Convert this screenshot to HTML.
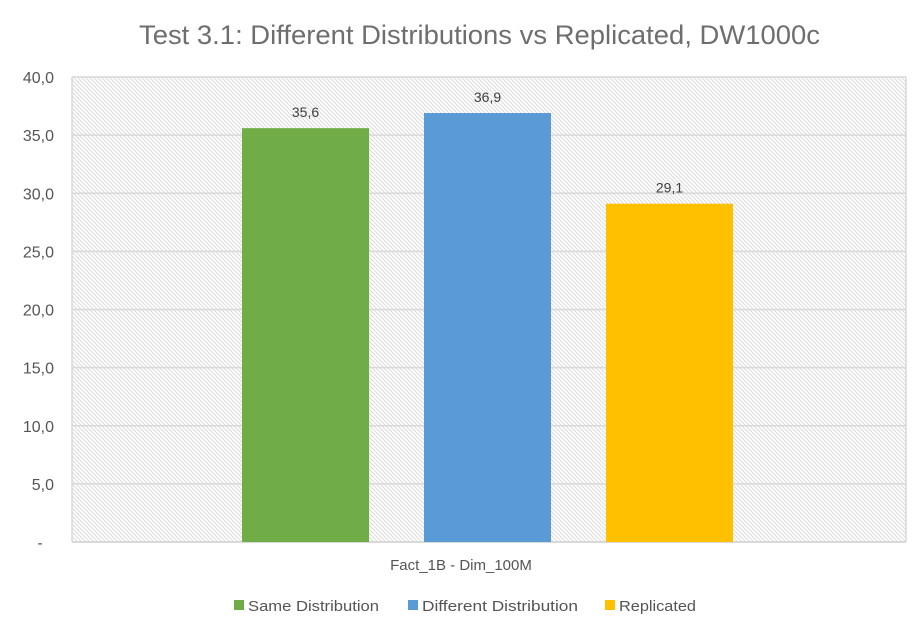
<!DOCTYPE html>
<html><head><meta charset="utf-8"><style>
body{margin:0;background:#fff;width:922px;height:628px;overflow:hidden;font-family:"Liberation Sans",sans-serif}
</style></head><body>
<svg width="922" height="628">
<defs>
<pattern id="hatch" width="4" height="4" patternUnits="userSpaceOnUse">
<rect width="4" height="4" fill="#fff"/>
<path d="M-1,-1 L5,5 M-1,3 L1,5 M3,-1 L5,1" stroke="#dcdcdc" stroke-width="1"/>
</pattern>
</defs>
<text x="139" y="44" font-size="27" fill="#6e6e6e" textLength="681" lengthAdjust="spacingAndGlyphs">Test 3.1: Different Distributions vs Replicated, DW1000c</text>
<rect x="72" y="77" width="834" height="465" fill="url(#hatch)"/>
<g id="grid"></g>
<g id="bars"></g>
<text x="461" y="570" text-anchor="middle" font-size="15" fill="#555">Fact_1B - Dim_100M</text>
<g id="legend" font-size="15" fill="#555"></g>
</svg>
<script>
const categories=["Same Distribution","Different Distribution","Replicated"];
const values=[35.6,36.9,29.1];
const colors=["#70ad47","#5b9bd5","#ffc000"];
const ticks=[0,5,10,15,20,25,30,35,40];
const tickLabels=["-","5,0","10,0","15,0","20,0","25,0","30,0","35,0","40,0"];
const ns="http://www.w3.org/2000/svg";
const y0=542,y1=77,x0=72,x1=906;
const ys=v=>y0-(v/40)*(y0-y1);
function mk(t,a,p){const e=document.createElementNS(ns,t);for(const k in a)e.setAttribute(k,a[k]);p.appendChild(e);return e;}
const g=document.getElementById('grid');
ticks.forEach((t,i)=>{
 const l=mk('line',{x1:x0,x2:x1,y1:ys(t),y2:ys(t),stroke:'#d9d9d9','stroke-width':i==0?2:1.5},g);
 
 
 const tx=mk('text',{x:i==0?40:54,y:ys(t)+6,'text-anchor':i==0?'middle':'end','font-size':16,fill:'#555'},g);
 tx.textContent=tickLabels[i];
 
 
});
mk('line',{x1:x0,x2:x0,y1:y1,y2:y0,stroke:'#d9d9d9','stroke-width':1.5},g);
mk('line',{x1:x1,x2:x1,y1:y1,y2:y0,stroke:'#d9d9d9','stroke-width':1.5},g);
const b=document.getElementById('bars');
const bw=127,starts=[242,424,606];
values.forEach((v,i)=>{
 const r=mk('rect',{x:starts[i],y:ys(v),width:bw,height:y0-ys(v),fill:colors[i]},b);
 
 
 const t=mk('text',{x:starts[i]+bw/2,y:ys(v)-11,'text-anchor':'middle','font-size':14,fill:'#404040'},b);
 t.textContent=v.toFixed(1).replace('.',',');
 
 
});
const lg=document.getElementById('legend');
const lx=[234,408,605];
const lw=[131,156,77];
categories.forEach((c,i)=>{
 const r=mk('rect',{x:lx[i],y:600,width:10,height:10,fill:colors[i]},lg);
 
 
 const t=mk('text',{x:lx[i]+14,y:611,textLength:lw[i],lengthAdjust:'spacingAndGlyphs'},lg);
 t.textContent=c;
 
 
});
</script>
</body></html>
